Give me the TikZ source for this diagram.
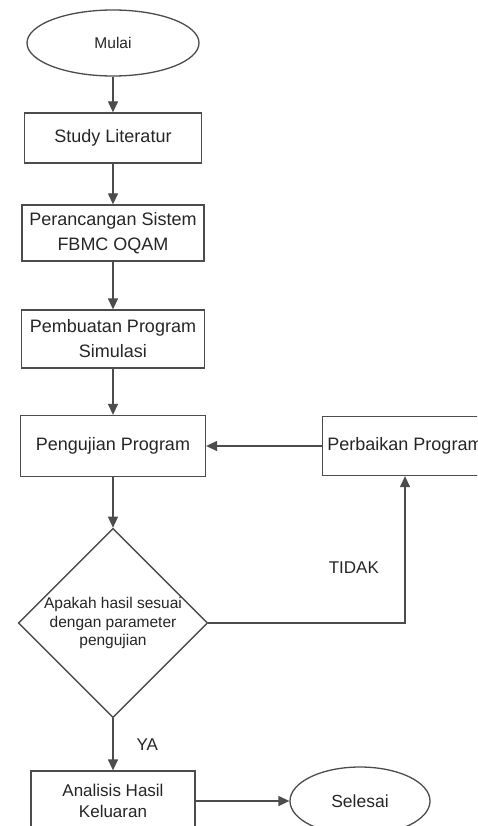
\documentclass[tikz,border=0pt]{standalone}
\usepackage{fontspec}
\setmainfont{Liberation Sans}
\usetikzlibrary{arrows.meta, positioning, shapes.geometric}

\begin{document}
\begin{tikzpicture}[x=1pt,y=-1pt,on grid,
    garis/.style={draw=black!70, line width=1.3pt},
    panah/.style={garis, -{Triangle[length=11pt,width=10pt]}},
    proses/.style={garis, rectangle, align=center, inner sep=3pt, text=black!85,
      font=\fontsize{18}{25}\selectfont},
    terminal/.style={garis, ellipse, inner sep=0pt, text=black!85},
    keputusan/.style={garis, diamond, aspect=1, inner sep=0pt, align=center,
      text=black!85, font=\fontsize{15.5}{18.5}\selectfont},
    teks/.style={text=black!85, inner sep=3pt, font=\fontsize{17}{20}\selectfont}]
  \useasboundingbox (0,0) rectangle (477,826);
  \clip (0,0) rectangle (477,826);
  \fill[white] (0,0) rectangle (477,826);

  \node[terminal, minimum width=172pt, minimum height=66pt,
    font=\fontsize{15.5}{18}\selectfont] (mulai) at (113,43) {Mulai};
  \node[proses, minimum width=177pt, minimum height=50pt] (studi) [below=95pt of mulai] {Study Literatur};
    \node[proses, minimum width=182pt, minimum height=56pt] (perancangan) [below=95pt of studi] {Perancangan Sistem\\FBMC OQAM};
    \node[proses, minimum width=183pt, minimum height=58pt] (pembuatan) [below=106pt of perancangan] {Pembuatan Program\\Simulasi};
    \node[proses, minimum width=185pt, minimum height=61pt] (pengujian) [below=107pt of pembuatan] {Pengujian Program};
      \node[proses, minimum width=165pt, minimum height=59pt] (perbaikan) [right=292pt of pengujian] {Perbaikan Program};
    \node[keputusan] (cek) [below=177pt of pengujian] {Apakah hasil sesuai\\dengan parameter\\pengujian};
    \node[proses, minimum width=164pt, minimum height=60pt,
      font=\fontsize{17}{21}\selectfont] (analisis) [below=178pt of cek] {Analisis Hasil\\Keluaran};
      \node[terminal, minimum width=140pt, minimum height=68pt,
        font=\fontsize{17.5}{20}\selectfont] (selesai) [right=247pt of analisis] {Selesai};

  % alur utama
  \draw[panah] (mulai) -- (studi);
  \draw[panah] (studi) -- (perancangan);
  \draw[panah] (perancangan) -- (pembuatan);
  \draw[panah] (pembuatan) -- (pengujian);
  \draw[panah] (pengujian) -- (cek);
  \draw[panah] (cek) -- node[teks, right=20pt] {YA} (analisis);
  \draw[panah] (cek.east) -| node[teks, pos=0.37, above=46pt] {TIDAK} (perbaikan.south);
  \draw[panah] (perbaikan) -- (pengujian);
  \draw[panah] (analisis) -- (selesai);
\end{tikzpicture}
\end{document}
